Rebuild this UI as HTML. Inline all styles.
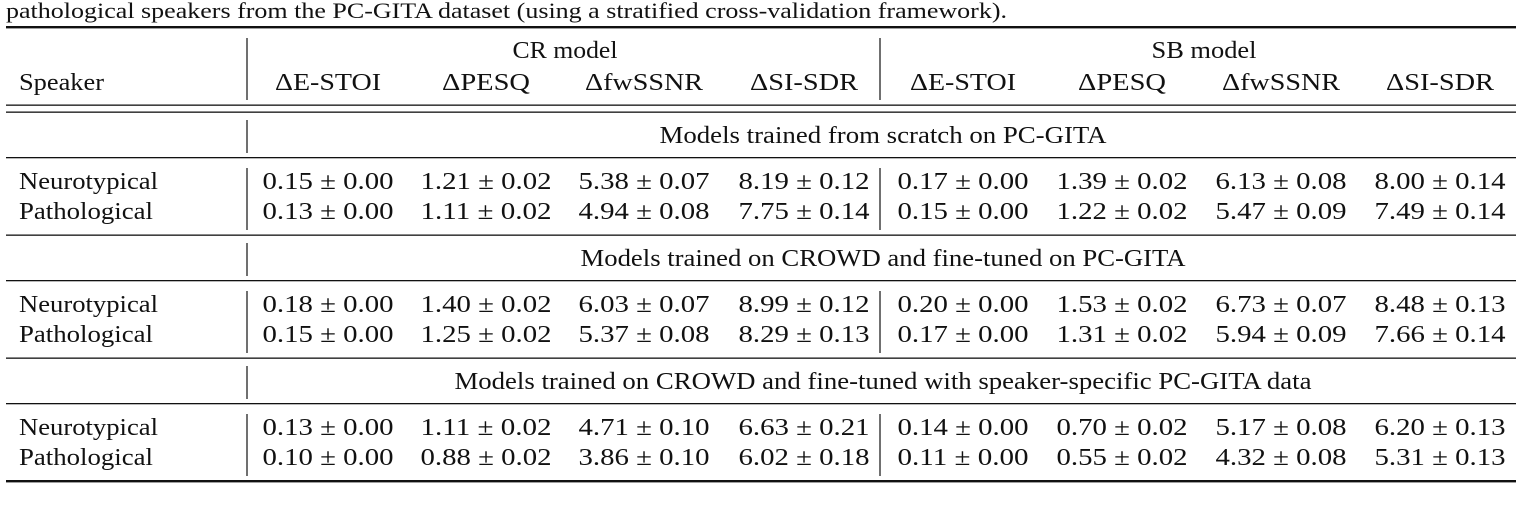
<!DOCTYPE html>
<html><head><meta charset="utf-8">
<style>
html,body{margin:0;padding:0;background:#fff;}
svg{display:block;}
svg text{font-family:"Liberation Serif","Times New Roman",Times,serif;fill:#111;}
</style></head>
<body>
<svg id="t" width="1522" height="508" viewBox="0 0 1522 508" xmlns="http://www.w3.org/2000/svg">
<text font-family="Liberation Serif, Times New Roman, serif" x="6" y="18" font-size="22" textLength="1001" lengthAdjust="spacingAndGlyphs">pathological speakers from the PC-GITA dataset (using a stratified cross-validation framework).</text>
<rect x="6" y="26" width="1510" height="2.4" fill="#111"/>
<rect x="6" y="104.5" width="1510" height="1.3" fill="#111"/>
<rect x="6" y="111.5" width="1510" height="1.3" fill="#111"/>
<rect x="6" y="480" width="1510" height="2.4" fill="#111"/>
</svg>
<script>
const groups = ["CR model", "SB model"];
const metrics = ["\u0394E-STOI", "\u0394PESQ", "\u0394fwSSNR", "\u0394SI-SDR"];
const sections = ["Models trained from scratch on PC-GITA", "Models trained on CROWD and fine-tuned on PC-GITA", "Models trained on CROWD and fine-tuned with speaker-specific PC-GITA data"];
const speakers = ["Neurotypical", "Pathological"];
const s1Neuro = ["0.15 \u00b1 0.00","1.21 \u00b1 0.02","5.38 \u00b1 0.07","8.19 \u00b1 0.12","0.17 \u00b1 0.00","1.39 \u00b1 0.02","6.13 \u00b1 0.08","8.00 \u00b1 0.14"];
const s1Path  = ["0.13 \u00b1 0.00","1.11 \u00b1 0.02","4.94 \u00b1 0.08","7.75 \u00b1 0.14","0.15 \u00b1 0.00","1.22 \u00b1 0.02","5.47 \u00b1 0.09","7.49 \u00b1 0.14"];
const s2Neuro = ["0.18 \u00b1 0.00","1.40 \u00b1 0.02","6.03 \u00b1 0.07","8.99 \u00b1 0.12","0.20 \u00b1 0.00","1.53 \u00b1 0.02","6.73 \u00b1 0.07","8.48 \u00b1 0.13"];
const s2Path  = ["0.15 \u00b1 0.00","1.25 \u00b1 0.02","5.37 \u00b1 0.08","8.29 \u00b1 0.13","0.17 \u00b1 0.00","1.31 \u00b1 0.02","5.94 \u00b1 0.09","7.66 \u00b1 0.14"];
const s3Neuro = ["0.13 \u00b1 0.00","1.11 \u00b1 0.02","4.71 \u00b1 0.10","6.63 \u00b1 0.21","0.14 \u00b1 0.00","0.70 \u00b1 0.02","5.17 \u00b1 0.08","6.20 \u00b1 0.13"];
const s3Path  = ["0.10 \u00b1 0.00","0.88 \u00b1 0.02","3.86 \u00b1 0.10","6.02 \u00b1 0.18","0.11 \u00b1 0.00","0.55 \u00b1 0.02","4.32 \u00b1 0.08","5.31 \u00b1 0.13"];
const sectionRows = [[s1Neuro, s1Path], [s2Neuro, s2Path], [s3Neuro, s3Path]];

const svg = document.getElementById('t');
const NS = "http://www.w3.org/2000/svg";
const colX = [328, 486, 644, 804, 963, 1122, 1281, 1440];
const groupX = [565, 1204];
const metricW = [106, 88, 118, 108];
const sectionW = [447, 605, 857];
const bar1 = 247, bar2 = 880;

function txt(str, x, y, anchor, w, name) {
  const t = document.createElementNS(NS, 'text');
  t.setAttribute('x', x); t.setAttribute('y', y);
  t.setAttribute('font-size', 24);
  t.setAttribute('font-family', 'Liberation Serif, Times New Roman, serif');
  t.setAttribute('text-anchor', anchor);
  if (w) { t.setAttribute('textLength', w); t.setAttribute('lengthAdjust', 'spacingAndGlyphs'); }
  t.textContent = str;
  
  
  svg.appendChild(t);
}
function vbar(x, y1, y2) {
  const l = document.createElementNS(NS, 'line');
  l.setAttribute('x1', x); l.setAttribute('x2', x);
  l.setAttribute('y1', y1); l.setAttribute('y2', y2);
  l.setAttribute('stroke', '#111'); l.setAttribute('stroke-width', 1.2);
  
  
  svg.appendChild(l);
}
function hrule(y) {
  const r = document.createElementNS(NS, 'rect');
  r.setAttribute('x', 6); r.setAttribute('y', y); r.setAttribute('width', 1510); r.setAttribute('height', 1.3);
  r.setAttribute('fill', '#111');
  
  
  svg.appendChild(r);
}

vbar(bar1, 38, 100); vbar(bar2, 38, 100);
txt("Speaker", 19, 90, 'start', 85, 'speaker-header');
groups.forEach((g, i) => txt(g, groupX[i], 58, 'middle', 105, 'group-header'));
colX.forEach((x, i) => txt(metrics[i % 4], x, 90, 'middle', metricW[i % 4], 'metric-header'));

const secTop = [113, 236, 359];
sections.forEach((s, si) => {
  const y0 = secTop[si];
  vbar(bar1, y0 + 7, y0 + 40);
  txt(s, 883, y0 + 30, 'middle', sectionW[si], 'section-title');
  hrule(y0 + 44);
  vbar(bar1, y0 + 55, y0 + 117);
  vbar(bar2, y0 + 55, y0 + 117);
  sectionRows[si].forEach((row, ri) => {
    const y = y0 + 76 + ri * 30;
    txt(speakers[ri], 19, y, 'start', ri === 0 ? 139 : 134, 'speaker-label');
    row.forEach((v, ci) => txt(v, colX[ci], y, 'middle', 131, 'value-cell'));
  });
  if (si < 2) hrule(y0 + 121.5);
});
</script>
</body></html>
